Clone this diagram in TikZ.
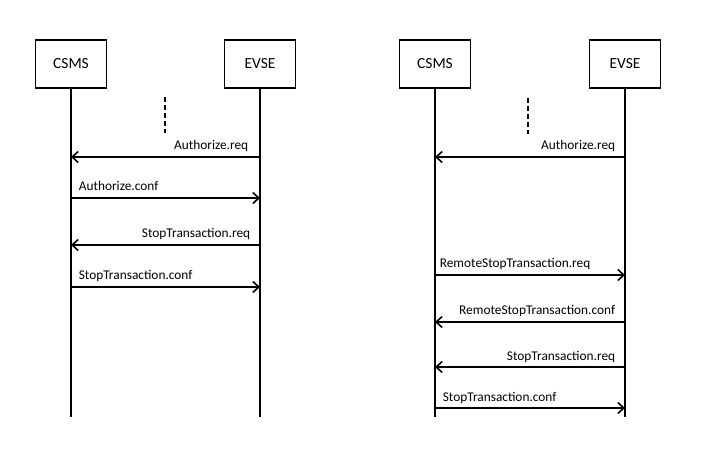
\documentclass[tikz,border=0pt]{standalone}
\usepackage{fontspec}
\setmainfont{Carlito}
\usetikzlibrary{arrows.meta}

\begin{document}
\begin{tikzpicture}[x=1bp,y=-1bp,>={Straight Barb[length=6bp,width=11bp]},line width=1.6bp,
  entity/.style={rectangle,draw,minimum width=71bp,minimum height=48bp,font=\fontsize{15.5}{18}\selectfont},
  msg/.style={->},
  leftlbl/.style={pos=0,anchor=base east,xshift=-9bp,yshift=7bp,inner sep=0pt,font=\fontsize{13.4}{15}\selectfont},
  rightlbl/.style={pos=0,anchor=base west,xshift=7bp,yshift=7bp,inner sep=0pt,font=\fontsize{13.4}{15}\selectfont},
  gap/.style={dash pattern=on 5bp off 3bp}]
\useasboundingbox (0,0) rectangle (713,458);

% Left diagram
  \node[entity] (csms) at (71,64) {CSMS};
  \node[entity] (evse) at (260,64) {EVSE};
  \coordinate (csmsEnd) at (71,417);
  \coordinate (evseEnd) at (260,417);
  \draw (csms.south) -- (csmsEnd);
  \draw (evse.south) -- (evseEnd);

  \coordinate (gapTop) at (165,97);
  \coordinate (gapBot) at (165,133);
  \draw[gap] (gapTop) -- (gapBot);

  \coordinate (c1) at (71,157);  \coordinate (e1) at (260,157);
  \coordinate (c2) at (71,198);  \coordinate (e2) at (260,198);
  \coordinate (c3) at (71,245);  \coordinate (e3) at (260,245);
  \coordinate (c4) at (71,287);  \coordinate (e4) at (260,287);

  \path
    (e1) edge[msg] node[leftlbl,xshift=-2bp] {Authorize.req} (c1)
    (c2) edge[msg] node[rightlbl] {Authorize.conf} (e2)
    (e3) edge[msg] node[leftlbl] {StopTransaction.req} (c3)
    (c4) edge[msg] node[rightlbl] {StopTransaction.conf} (e4);

% Right diagram
  \node[entity] (rcsms) at (435,64) {CSMS};
  \node[entity] (revse) at (625,64) {EVSE};
  \coordinate (rcsmsEnd) at (435,417);
  \coordinate (revseEnd) at (625,417);
  \draw (rcsms.south) -- (rcsmsEnd);
  \draw (revse.south) -- (revseEnd);

  \coordinate (rgapTop) at (528,98);
  \coordinate (rgapBot) at (528,134);
  \draw[gap] (rgapTop) -- (rgapBot);

  \coordinate (rc1) at (435,157);  \coordinate (re1) at (625,157);
  \coordinate (rc2) at (435,275);  \coordinate (re2) at (625,275);
  \coordinate (rc3) at (435,322);  \coordinate (re3) at (625,322);
  \coordinate (rc4) at (435,367);  \coordinate (re4) at (625,367);
  \coordinate (rc5) at (435,408);  \coordinate (re5) at (625,408);

  \path
    (re1) edge[msg] node[leftlbl] {Authorize.req} (rc1)
    (rc2) edge[msg] node[rightlbl,xshift=-3bp] {RemoteStopTransaction.req} (re2)
    (re3) edge[msg] node[leftlbl] {RemoteStopTransaction.conf} (rc3)
    (re4) edge[msg] node[leftlbl] {StopTransaction.req} (rc4)
    (rc5) edge[msg] node[rightlbl] {StopTransaction.conf} (re5);

\end{tikzpicture}
\end{document}
